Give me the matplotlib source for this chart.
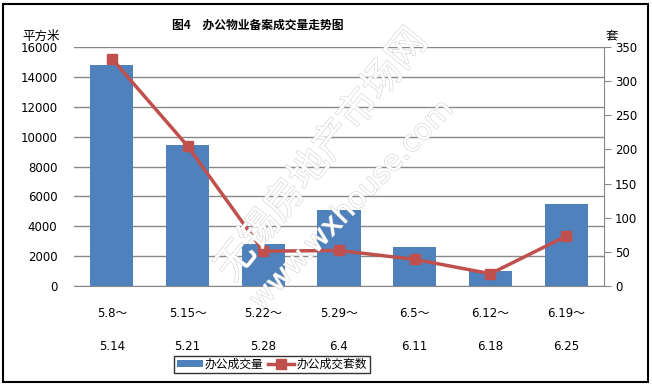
import matplotlib
matplotlib.use('Agg')
import matplotlib.pyplot as plt
import matplotlib.patheffects as pe
from matplotlib.patches import Rectangle
import numpy as np

plt.rcParams['font.family'] = ['DejaVu Sans', 'Noto Sans CJK SC']
plt.rcParams['axes.unicode_minus'] = False

# data
weeks_start = ['5.8～', '5.15～', '5.22～', '5.29～', '6.5～', '6.12～', '6.19～']
weeks_end = ['5.14', '5.21', '5.28', '6.4', '6.11', '6.18', '6.25']
area = [14800, 9450, 2800, 5100, 2600, 1000, 5500]      # 平方米
units = [333, 205, 51, 52, 39, 18, 73]                  # 套

BAR = '#4F81BD'
LINE = '#C0504D'
GRID = '#888888'

fig = plt.figure(figsize=(6.52, 3.85), dpi=100)
ax = fig.add_axes([74/652, 1 - 286/385, 530/652, 239/385])
ax2 = ax.twinx()

x = np.arange(len(area))
b = ax.bar(x, area, width=0.57, color=BAR, zorder=2, label='办公成交量')
l, = ax2.plot(x, units, color=LINE, lw=2.5, marker='s', ms=7,
              mec=LINE, mfc=LINE, zorder=3, label='办公成交套数')

ax.set_xlim(-0.5, len(area) - 0.5)
ax.set_ylim(0, 16000)
ax.set_yticks(np.arange(0, 16001, 2000))
ax2.set_ylim(0, 350)
ax2.set_yticks(np.arange(0, 351, 50))

ax.yaxis.grid(True, color=GRID, lw=1, zorder=0)
ax.set_axisbelow(True)

labels = [f'{s}\n\n{e}' for s, e in zip(weeks_start, weeks_end)]
ax.set_xticks(x)
ax.set_xticklabels(labels, fontsize=8.5, linespacing=1.35)
ax.tick_params(axis='x', length=0, pad=15)
ax.tick_params(axis='y', length=0, labelsize=8.5, pad=12)
ax2.tick_params(axis='y', length=5, color=GRID, labelsize=8.5, pad=3, direction='out')

for s in ['top', 'left']:
    ax.spines[s].set_visible(False)
    ax2.spines[s].set_visible(False)
ax.spines['right'].set_visible(False)
ax2.spines['right'].set_color(GRID)
ax.spines['bottom'].set_color(GRID)
ax2.spines['bottom'].set_visible(False)

# units
fig.text(41/652, 1 - 36/385, '平方米', ha='center', va='center', fontsize=9,
         family=['Noto Sans CJK SC'])
fig.text(612/652, 1 - 36/385, '套', ha='center', va='center', fontsize=9,
         family=['Noto Sans CJK SC'])

# title
fig.text(258/652, 1 - 25/385, '图4　办公物业备案成交量走势图', ha='center', va='center',
         fontsize=8.5, fontweight='bold', family=['Noto Sans CJK SC'])

# watermark
wm = [pe.withStroke(linewidth=0.8, foreground='#D2D2D2')]
fig.text(322/652, 1 - 155/385, '无锡房地产市场网', ha='center', va='center',
         fontsize=28, color='white', rotation=51, family=['Noto Sans CJK SC'],
         fontweight='light', path_effects=wm, zorder=5)
fig.text(352/652, 1 - 205/385, 'www.wxhouse.com', ha='center', va='center',
         fontsize=21, color='white', rotation=46, path_effects=wm, zorder=5)

# legend
leg = fig.legend([b, l], ['办公成交量', '办公成交套数'], loc='center',
                 bbox_to_anchor=(272/652, 1 - 364.5/385), ncol=2,
                 frameon=True, fancybox=False, edgecolor='black',
                 handlelength=2.2, handleheight=0.5, handletextpad=0.2,
                 columnspacing=0.4, borderpad=0.2,
                 prop={'family': ['Noto Sans CJK SC'], 'size': 8.5})
leg.get_frame().set_linewidth(1)

# outer border
fig.patches.append(Rectangle((3/652, 3/385), 645/652, 378/385, transform=fig.transFigure,
                             fill=False, edgecolor='black', lw=1.5))

fig.savefig('out.png', dpi=100, facecolor='white')
